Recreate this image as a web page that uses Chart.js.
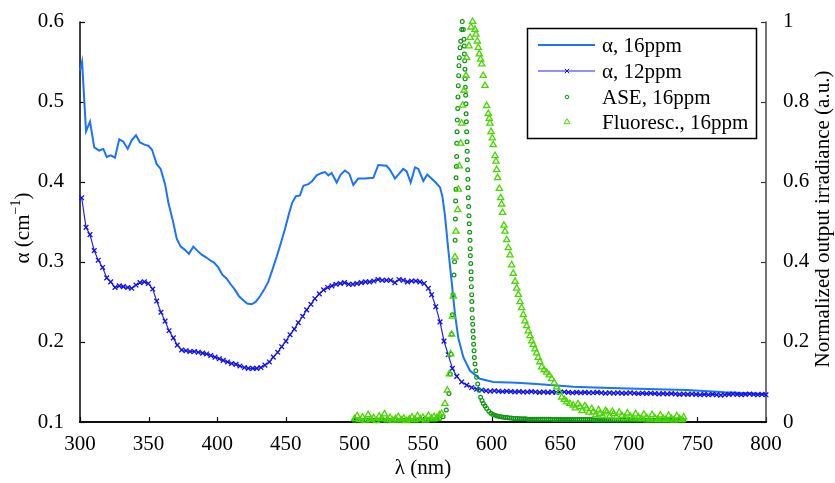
<!DOCTYPE html>
<html>
<head>
<meta charset="utf-8">
<script src="https://cdn.jsdelivr.net/npm/chart.js@4.4.1/dist/chart.umd.min.js"></script>
<style>
  html, body { margin: 0; padding: 0; background: #fff; }
  canvas { display: block; }
</style>
</head>
<body>
<canvas id="chart" width="835" height="483"></canvas>
<script>
// absorption, 16ppm (left axis)
const wl16 = [300, 301.5, 304.4, 307.3, 310.4, 314, 317, 319.5, 322.4, 325.5, 328.6, 331.6, 334.8, 337.7, 340.8, 343.7, 347.4, 349.8, 352.5, 355.9, 358.8, 362, 364.4, 368, 370.5, 373.4, 376.5, 379.4, 382.6, 385.5, 388.7, 391.6, 394.8, 397.7, 400.8, 403.7, 406.9, 409.8, 413, 415.9, 419, 421.9, 425.1, 428, 431.2, 434.1, 437.2, 440.2, 443.3, 446.3, 449.4, 452.3, 454.7, 457.4, 460.3, 462.8, 466.4, 469.3, 472.5, 476.2, 478.6, 481, 483.4, 487.1, 490, 493.1, 496.3, 499.2, 502.8, 507.7, 513.8, 517.4, 523.5, 525.9, 529.6, 535.6, 538.1, 541, 544.2, 546.6, 550.2, 553.1, 559.3, 562.4, 564.1, 566, 568.4, 570.9, 573.3, 575.7, 579.4, 584.3, 591.5, 601.3, 618.3, 635.3, 645, 659.5, 675, 693.6, 720, 742.2, 770, 800];
const alpha16 = [0.539, 0.550, 0.463, 0.475, 0.443, 0.439, 0.441, 0.431, 0.433, 0.430, 0.453, 0.450, 0.441, 0.452, 0.458, 0.449, 0.446, 0.445, 0.440, 0.422, 0.416, 0.397, 0.374, 0.349, 0.329, 0.319, 0.315, 0.310, 0.319, 0.314, 0.309, 0.306, 0.302, 0.299, 0.293, 0.284, 0.279, 0.272, 0.265, 0.257, 0.252, 0.248, 0.247, 0.250, 0.257, 0.265, 0.275, 0.290, 0.306, 0.323, 0.341, 0.360, 0.374, 0.382, 0.383, 0.395, 0.397, 0.401, 0.408, 0.411, 0.412, 0.408, 0.411, 0.399, 0.409, 0.414, 0.410, 0.396, 0.404, 0.404, 0.405, 0.421, 0.420, 0.415, 0.404, 0.416, 0.413, 0.399, 0.418, 0.416, 0.401, 0.409, 0.399, 0.393, 0.382, 0.358, 0.316, 0.275, 0.235, 0.205, 0.181, 0.164, 0.154, 0.150, 0.149, 0.147, 0.146, 0.144, 0.143, 0.142, 0.141, 0.140, 0.137, 0.135];

// absorption, 12ppm (left axis)
const wl12 = [301.2, 304.4, 307.3, 310.4, 313.3, 316.5, 319.5, 322.4, 325.5, 328.6, 331.6, 334.8, 337.7, 340.8, 343.7, 346.9, 349.8, 353, 355.9, 359, 362, 364.9, 368, 370.9, 374.1, 377.3, 380.2, 383.3, 386.2, 389.4, 392.3, 395.3, 398.4, 401.5, 404.4, 407.6, 410.5, 413.7, 416.6, 419.8, 422.7, 425.9, 428.8, 431.9, 434.8, 438, 440.9, 444.1, 447, 450.1, 453.1, 456.2, 459.1, 462.3, 465.2, 468.3, 471.2, 474.4, 477.5, 480.5, 483.6, 486.6, 489.7, 492.8, 495.8, 498.9, 501.9, 505, 508.1, 511.1, 514.2, 517.2, 520.3, 523.4, 526.4, 529.5, 532.5, 535.6, 538.7, 541.7, 544.8, 547.8, 550.9, 553.9, 556.3, 559.3, 562.4, 565.3, 568.4, 571.4, 574.6, 578.2, 581.9, 585.5, 589.1, 592.8, 596, 599, 602, 605, 608, 611, 614, 617, 620, 623, 626, 629, 632, 635, 638, 641, 644, 647, 650, 653, 656, 659, 662, 665, 668, 671, 674, 677, 680, 683, 686, 689, 692, 695, 698, 701, 704, 707, 710, 713, 716, 719, 722, 725, 728, 731, 734, 737, 740, 743, 746, 749, 752, 755, 758, 761, 764, 767, 770, 773, 776, 779, 782, 785, 788, 791, 794, 797, 800];
const alpha12 = [0.380, 0.343, 0.334, 0.314, 0.302, 0.293, 0.280, 0.275, 0.268, 0.270, 0.269, 0.268, 0.267, 0.271, 0.274, 0.275, 0.273, 0.266, 0.251, 0.237, 0.226, 0.214, 0.205, 0.196, 0.190, 0.189, 0.188, 0.188, 0.187, 0.186, 0.185, 0.183, 0.181, 0.179, 0.177, 0.175, 0.173, 0.172, 0.170, 0.168, 0.167, 0.167, 0.167, 0.168, 0.171, 0.175, 0.181, 0.187, 0.194, 0.201, 0.209, 0.216, 0.224, 0.232, 0.240, 0.247, 0.254, 0.260, 0.265, 0.268, 0.270, 0.272, 0.273, 0.274, 0.272, 0.272, 0.273, 0.274, 0.275, 0.275, 0.276, 0.278, 0.277, 0.277, 0.277, 0.274, 0.278, 0.277, 0.275, 0.276, 0.276, 0.275, 0.273, 0.267, 0.259, 0.244, 0.225, 0.201, 0.184, 0.167, 0.157, 0.150, 0.146, 0.143, 0.141, 0.140, 0.139, 0.1385, 0.139, 0.1385, 0.138, 0.1385, 0.138, 0.1375, 0.138, 0.1375, 0.1375, 0.138, 0.1375, 0.137, 0.1375, 0.137, 0.1375, 0.137, 0.137, 0.1375, 0.137, 0.1365, 0.137, 0.1365, 0.137, 0.1365, 0.1365, 0.137, 0.1365, 0.136, 0.1365, 0.136, 0.1365, 0.136, 0.136, 0.1365, 0.136, 0.1355, 0.136, 0.1355, 0.136, 0.1355, 0.135, 0.1355, 0.135, 0.1355, 0.135, 0.1345, 0.135, 0.1345, 0.135, 0.1345, 0.134, 0.1345, 0.134, 0.1345, 0.134, 0.1335, 0.134, 0.1345, 0.135, 0.1345, 0.134, 0.1345, 0.135, 0.1345, 0.134, 0.1345, 0.134];

// ASE spectrum, normalized (right axis)
const wlAse = [500, 502, 504, 506, 508, 510, 512, 514, 516, 518, 520, 522, 524, 526, 528, 530, 532, 534, 536, 538, 540, 542, 544, 546, 548, 550, 552, 554, 556, 558, 560, 562, 564.6, 567, 568.9, 569.9, 570.4, 570.9, 571.4, 571.9, 572.6, 573, 573.4, 573.6, 573.8, 574, 574.1, 574.3, 574.5, 574.6, 574.8, 575, 575.3, 575.5, 575.7, 576, 576.2, 576.5, 577, 577.5, 578.2, 578.6, 579.4, 579.9, 580.1, 580.2, 580.4, 580.6, 580.7, 580.8, 581.1, 581.3, 581.4, 581.6, 581.8, 582.1, 582.2, 582.3, 582.6, 582.7, 582.8, 583, 583.3, 583.5, 583.7, 584, 584.3, 584.4, 584.5, 584.8, 585, 585.1, 585.2, 585.5, 585.6, 585.7, 586, 586.2, 586.4, 586.7, 586.9, 587.2, 587.4, 587.9, 588.5, 589.1, 589.9, 590.8, 592, 593, 594, 595.2, 596.4,
  598, 599.5, 601, 602.5, 604, 605.5, 607, 608.5, 610, 611.5, 613, 614.5, 616, 617.5, 619, 620.5, 622, 623.5, 625, 626.5, 628, 629.5, 631, 632.5, 634, 635.5, 637, 638.5, 640, 641.5, 643, 644.5, 646, 647.5, 649, 650.5, 652, 653.5, 655, 656.5, 658, 659.5, 661, 662.5, 664, 665.5, 667, 668.5, 670, 671.5, 673, 674.5, 676, 677.5, 679, 680.5, 682, 683.5, 685, 686.5, 688, 689.5, 691, 692.5, 694, 695.5, 697, 698.5, 700, 701.5, 703, 704.5, 706, 707.5, 709, 710.5, 712, 713.5, 715, 716.5, 718, 719.5, 721, 722.5, 724, 725.5, 727, 728.5, 730, 731.5, 733, 734.5, 736, 737.5, 739, 740];
const irrAse = [0.004, 0.005, 0.004, 0.003, 0.004, 0.005, 0.004, 0.004, 0.003, 0.004, 0.005, 0.004, 0.003, 0.004, 0.004, 0.005, 0.004, 0.003, 0.004, 0.005, 0.004, 0.004, 0.003, 0.004, 0.005, 0.004, 0.004, 0.005, 0.006, 0.005, 0.006, 0.008, 0.013, 0.030, 0.071, 0.120, 0.170, 0.219, 0.268, 0.318, 0.367, 0.400, 0.454, 0.507, 0.552, 0.581, 0.610, 0.638, 0.663, 0.696, 0.725, 0.754, 0.783, 0.812, 0.840, 0.865, 0.890, 0.910, 0.935, 0.951, 0.980, 1.000, 0.980, 0.956, 0.939, 0.919, 0.902, 0.881, 0.857, 0.836, 0.816, 0.795, 0.770, 0.750, 0.725, 0.700, 0.676, 0.655, 0.630, 0.606, 0.585, 0.560, 0.538, 0.515, 0.495, 0.474, 0.454, 0.433, 0.415, 0.396, 0.375, 0.357, 0.338, 0.318, 0.301, 0.281, 0.260, 0.244, 0.227, 0.211, 0.194, 0.178, 0.161, 0.145, 0.128, 0.112, 0.095, 0.079, 0.062, 0.054, 0.046, 0.040, 0.034, 0.027,
  0.022, 0.019, 0.017, 0.015, 0.014, 0.013, 0.012, 0.011, 0.011, 0.010, 0.010, 0.009, 0.009, 0.009, 0.008, 0.008, 0.008, 0.008, 0.007, 0.007, 0.007, 0.007, 0.007, 0.007, 0.007, 0.007, 0.007, 0.007, 0.007, 0.007, 0.006, 0.006, 0.006, 0.006, 0.006, 0.006, 0.006, 0.006, 0.006, 0.006, 0.006, 0.006, 0.006, 0.006, 0.006, 0.006, 0.006, 0.006, 0.006, 0.006, 0.005, 0.005, 0.005, 0.005, 0.005, 0.005, 0.005, 0.005, 0.005, 0.005, 0.005, 0.005, 0.005, 0.005, 0.005, 0.005, 0.005, 0.005, 0.005, 0.005, 0.005, 0.005, 0.005, 0.005, 0.005, 0.004, 0.004, 0.004, 0.004, 0.004, 0.004, 0.004, 0.004, 0.004, 0.004, 0.004, 0.004, 0.004, 0.004, 0.004, 0.004, 0.004, 0.004, 0.004, 0.004, 0.004];

// fluorescence spectrum, normalized (right axis)
const wlFluo = [500, 502, 504, 506, 508, 510, 512, 514, 516, 518, 520, 522, 524, 526, 528, 530, 532, 534, 536, 538, 540, 542, 544, 546, 548, 550, 552, 554, 556, 558, 560, 562, 563.6, 566, 567.7, 569.2, 570.2, 570.9, 571.4, 572.1, 573.3, 574, 575.3, 575.8, 576.5, 577.5, 578.2, 578.9, 579.9, 581.3, 581.8, 583.5, 584.3, 585, 586.2, 587.9, 588.6, 589.6, 590.3, 591, 592, 592.8, 593.9, 595.2, 596.4, 597.6, 598.3, 598.8, 599.6, 600.5, 601.2, 602.5, 603.2, 603.7, 604.4, 605.6, 606.6, 607.3, 608, 609, 609.8, 611, 612.2, 613.4, 614.6, 615.8, 617.1, 618.3, 619.5, 620.7, 621.9, 623.1, 624.3, 625.5, 626.7, 628, 629.2, 630.4, 631.6, 632.8, 634, 635.2, 636.5, 638.3, 640.1, 642, 643.8, 645.6, 647.4, 649.2, 651.1, 653, 654.7, 657, 659.5, 661, 663, 664.4, 666, 668, 669.3, 671, 673, 674.1, 676, 678, 679, 681, 683, 684, 686, 688, 689, 691, 693, 695, 697, 699, 701, 703, 705, 707, 709, 711, 713, 715, 717, 719, 721, 723, 725, 727, 729, 731, 733, 735, 737, 739, 740];
const irrFluo = [0.008, 0.015, 0.006, 0.012, 0.004, 0.018, 0.007, 0.010, 0.003, 0.014, 0.009, 0.020, 0.006, 0.011, 0.004, 0.008, 0.013, 0.005, 0.009, 0.003, 0.007, 0.012, 0.006, 0.015, 0.008, 0.011, 0.005, 0.016, 0.009, 0.013, 0.010, 0.018, 0.021, 0.046, 0.079, 0.120, 0.170, 0.219, 0.264, 0.314, 0.412, 0.476, 0.530, 0.581, 0.639, 0.696, 0.746, 0.791, 0.828, 0.865, 0.910, 0.939, 0.960, 0.986, 1.000, 0.980, 0.968, 0.951, 0.935, 0.919, 0.906, 0.894, 0.865, 0.840, 0.790, 0.770, 0.758, 0.746, 0.725, 0.709, 0.692, 0.665, 0.651, 0.630, 0.610, 0.583, 0.560, 0.544, 0.523, 0.491, 0.476, 0.455, 0.435, 0.417, 0.392, 0.371, 0.351, 0.334, 0.318, 0.300, 0.285, 0.268, 0.252, 0.240, 0.227, 0.215, 0.202, 0.193, 0.182, 0.172, 0.161, 0.150, 0.137, 0.130, 0.124, 0.117, 0.108, 0.098, 0.087, 0.075, 0.062, 0.056, 0.050, 0.046, 0.042, 0.035, 0.045, 0.038, 0.028, 0.040, 0.034, 0.024, 0.033, 0.025, 0.018, 0.030, 0.021, 0.015, 0.028, 0.025, 0.014, 0.026, 0.021, 0.012, 0.024, 0.016, 0.010, 0.022, 0.014, 0.009, 0.020, 0.012, 0.008, 0.019, 0.011, 0.007, 0.018, 0.010, 0.006, 0.017, 0.009, 0.006, 0.016, 0.009, 0.005, 0.015, 0.008, 0.006, 0.012];

const xTicks = [300, 350, 400, 450, 500, 550, 600, 650, 700, 750, 800];
const alphaTicks = [0.1, 0.2, 0.3, 0.4, 0.5, 0.6];
const irrTicks = [0, 0.2, 0.4, 0.6, 0.8, 1];

const legendLabels = ["\u03b1, 16ppm", "\u03b1, 12ppm", "ASE, 16ppm", "Fluoresc., 16ppm"];

const SERIF = "'Liberation Serif', 'Times New Roman', 'DejaVu Serif', serif";
const C16 = "#1a72ff";
const C12 = "#2424e8";
const C12_MARK = "#1010ee";
const CASE = "#0c960c";
const CFLUO = "#48d800";

function pairs(xs, ys) {
  return xs.map((x, i) => ({ x: x, y: ys[i] }));
}

function drawMarker(ctx, style, x, y, color) {
  ctx.save();
  ctx.strokeStyle = color;
  ctx.lineWidth = 1;
  ctx.beginPath();
  if (style === "x") {
    ctx.moveTo(x - 2.2, y - 2.2); ctx.lineTo(x + 2.2, y + 2.2);
    ctx.moveTo(x + 2.2, y - 2.2); ctx.lineTo(x - 2.2, y + 2.2);
  } else if (style === "o") {
    ctx.arc(x, y, 1.8, 0, Math.PI * 2);
  } else {
    ctx.moveTo(x, y - 3.2);
    ctx.lineTo(x + 2.9, y + 1.7);
    ctx.lineTo(x - 2.9, y + 1.7);
    ctx.closePath();
  }
  ctx.stroke();
  ctx.restore();
}

// axis lines, inward ticks, titles and the boxed legend
const decoPlugin = {
  id: "deco",
  beforeDatasetsDraw(chart) {
    const ctx = chart.ctx;
    const a = chart.chartArea;
    const sx = chart.scales.x, sy = chart.scales.y, sy1 = chart.scales.y1;
    ctx.save();
    ctx.lineCap = "butt";

    ctx.strokeStyle = "#000";
    ctx.lineWidth = 1.2;
    xTicks.forEach((v) => {
      const px = Math.round(sx.getPixelForValue(v)) + 0.5;
      ctx.beginPath(); ctx.moveTo(px, a.bottom); ctx.lineTo(px, a.bottom - 5); ctx.stroke();
    });
    alphaTicks.forEach((v) => {
      const py = Math.round(sy.getPixelForValue(v)) + 0.5;
      ctx.beginPath(); ctx.moveTo(a.left, py); ctx.lineTo(a.left + 5, py); ctx.stroke();
    });
    ctx.strokeStyle = "#333";
    irrTicks.forEach((v) => {
      const py = Math.round(sy1.getPixelForValue(v)) + 0.5;
      ctx.beginPath(); ctx.moveTo(a.right, py); ctx.lineTo(a.right - 5, py); ctx.stroke();
    });

    ctx.strokeStyle = "#000";
    ctx.lineWidth = 1.5;
    ctx.beginPath(); ctx.moveTo(a.left, a.top); ctx.lineTo(a.left, a.bottom); ctx.stroke();
    ctx.strokeStyle = "#444";
    ctx.beginPath(); ctx.moveTo(a.right, a.top); ctx.lineTo(a.right, a.bottom); ctx.stroke();
    ctx.strokeStyle = "#111";
    ctx.lineWidth = 2.2;
    ctx.beginPath(); ctx.moveTo(a.left - 1, a.bottom); ctx.lineTo(a.right + 1, a.bottom); ctx.stroke();
    ctx.restore();
  },
  afterDraw(chart) {
    const ctx = chart.ctx;
    const a = chart.chartArea;
    ctx.save();
    ctx.fillStyle = "#000";

    // x title
    ctx.font = "21px " + SERIF;
    ctx.textAlign = "center";
    ctx.textBaseline = "middle";
    ctx.fillText("\u03bb (nm)", (a.left + a.right) / 2, 468);

    // left title with superscript
    ctx.save();
    ctx.translate(23, 228);
    ctx.rotate(-Math.PI / 2);
    ctx.textAlign = "left";
    ctx.textBaseline = "middle";
    const partA = "\u03b1 (cm", sup = "\u22121", partB = ")";
    ctx.font = "21px " + SERIF;
    const wA = ctx.measureText(partA).width, wB = ctx.measureText(partB).width;
    ctx.font = "14px " + SERIF;
    const wS = ctx.measureText(sup).width;
    let x0 = -(wA + wS + wB) / 2;
    ctx.font = "21px " + SERIF;
    ctx.fillText(partA, x0, 0);
    ctx.font = "14px " + SERIF;
    ctx.fillText(sup, x0 + wA, -7);
    ctx.font = "21px " + SERIF;
    ctx.fillText(partB, x0 + wA + wS, 0);
    ctx.restore();

    // right title
    ctx.save();
    ctx.translate(823, 219);
    ctx.rotate(-Math.PI / 2);
    ctx.textAlign = "center";
    ctx.textBaseline = "middle";
    ctx.font = "21px " + SERIF;
    ctx.fillText("Normalized output irradiance (a.u.)", 0, 0);
    ctx.restore();

    // legend box
    const bx = 527.5, by = 28.5, bw = 229, bh = 110;
    ctx.fillStyle = "#fff";
    ctx.fillRect(bx, by, bw, bh);
    ctx.strokeStyle = "#000";
    ctx.lineWidth = 1.5;
    ctx.strokeRect(bx, by, bw, bh);

    const rows = [45, 71, 97, 122];
    const x1 = 538, x2 = 595, xm = 567, xt = 602;
    ctx.lineWidth = 2;
    ctx.strokeStyle = C16;
    ctx.beginPath(); ctx.moveTo(x1, rows[0]); ctx.lineTo(x2, rows[0]); ctx.stroke();
    ctx.lineWidth = 1.5;
    ctx.strokeStyle = "#6b6bff";
    ctx.beginPath(); ctx.moveTo(x1, rows[1]); ctx.lineTo(x2, rows[1]); ctx.stroke();
    drawMarker(ctx, "x", xm, rows[1], C12_MARK);
    drawMarker(ctx, "o", xm, rows[2], CASE);
    drawMarker(ctx, "t", xm, rows[3], CFLUO);

    ctx.fillStyle = "#000";
    ctx.font = "21px " + SERIF;
    ctx.textAlign = "left";
    ctx.textBaseline = "middle";
    legendLabels.forEach((t, i) => ctx.fillText(t, xt, rows[i] + 1));
    ctx.restore();
  }
};

new Chart(document.getElementById("chart"), {
  type: "scatter",
  data: {
    datasets: [
      {
        label: legendLabels[3],
        data: pairs(wlFluo, irrFluo),
        yAxisID: "y1",
        showLine: false,
        pointStyle: "triangle",
        pointRadius: 3.6,
        pointBorderWidth: 1.3,
        pointBorderColor: CFLUO,
        pointBackgroundColor: "rgba(0,0,0,0)",
        clip: false,
        order: 0
      },
      {
        label: legendLabels[2],
        data: pairs(wlAse, irrAse),
        yAxisID: "y1",
        showLine: false,
        pointStyle: "circle",
        pointRadius: 1.9,
        pointBorderWidth: 1.2,
        pointBorderColor: CASE,
        pointBackgroundColor: "rgba(0,0,0,0)",
        clip: false,
        order: 1
      },
      {
        label: legendLabels[1],
        data: pairs(wl12, alpha12),
        yAxisID: "y",
        showLine: true,
        borderColor: C12,
        borderWidth: 1.2,
        tension: 0,
        pointStyle: "crossRot",
        pointRadius: 3.3,
        pointBorderWidth: 1.3,
        pointBorderColor: C12_MARK,
        clip: false,
        order: 2
      },
      {
        label: legendLabels[0],
        data: pairs(wl16, alpha16),
        yAxisID: "y",
        showLine: true,
        borderColor: C16,
        borderWidth: 2,
        tension: 0,
        pointRadius: 0,
        clip: false,
        order: 3
      }
    ]
  },
  options: {
    responsive: false,
    animation: false,
    devicePixelRatio: 1,
    layout: { padding: { top: 17, left: 0, right: 0, bottom: 0 } },
    plugins: {
      legend: { display: false },
      tooltip: { enabled: false }
    },
    scales: {
      x: {
        type: "linear",
        min: 300,
        max: 800,
        grid: { display: false },
        border: { display: false },
        afterFit(scale) { scale.height = 61; },
        afterBuildTicks(scale) { scale.ticks = xTicks.map((v) => ({ value: v })); },
        ticks: {
          color: "#000",
          padding: 2,
          maxRotation: 0,
          font: { family: SERIF, size: 21 }
        }
      },
      y: {
        type: "linear",
        position: "left",
        min: 0.1,
        max: 0.6,
        grid: { display: false },
        border: { display: false },
        afterFit(scale) { scale.width = 80; },
        afterBuildTicks(scale) { scale.ticks = alphaTicks.map((v) => ({ value: v })); },
        ticks: {
          color: "#000",
          padding: 8,
          font: { family: SERIF, size: 21 },
          callback: (v) => String(v)
        }
      },
      y1: {
        type: "linear",
        position: "right",
        min: 0,
        max: 1,
        grid: { display: false },
        border: { display: false },
        afterFit(scale) { scale.width = 69; },
        afterBuildTicks(scale) { scale.ticks = irrTicks.map((v) => ({ value: v })); },
        ticks: {
          color: "#000",
          padding: 9,
          font: { family: SERIF, size: 21 },
          callback: (v) => String(v)
        }
      }
    }
  },
  plugins: [decoPlugin]
});
</script>
</body>
</html>
